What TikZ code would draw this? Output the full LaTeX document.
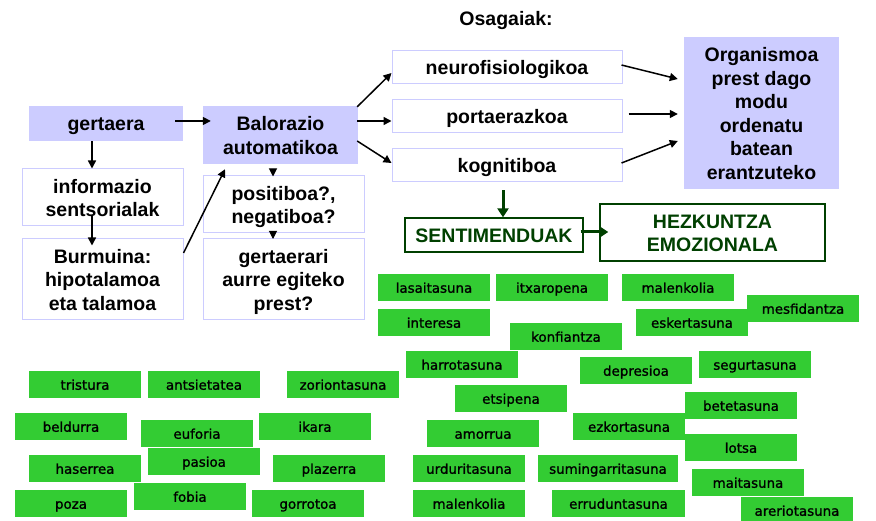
\documentclass[tikz,border=0pt]{standalone}
\usepackage{fontspec}
\setmainfont{Liberation Sans}
\newfontfamily\lblfont[FakeBold=1.2]{DejaVu Sans}
\usetikzlibrary{arrows.meta,calc}
\definecolor{lav}{HTML}{CCCCFF}
\definecolor{grn}{HTML}{33CC33}
\definecolor{dgrn}{HTML}{004000}
\newcommand\bxl[1]{\smash{#1}\rule{0pt}{15pt}}
\begin{document}
\begin{tikzpicture}[x=1pt,y=-1pt,
  main/.style={font=\fontsize{19.5}{23.5}\selectfont\bfseries, align=center, inner sep=0pt},
  filledbox/.style={main, fill=lav},
  whitebox/.style={main, draw=lav, line width=1pt, fill=white},
  greenbox/.style={main, draw=dgrn, line width=1.3pt, fill=white, text=dgrn},
  lbl/.style={fill=grn, minimum width=112pt, minimum height=27pt, inner sep=0pt,
    font=\lblfont\fontsize{13.4}{16}\selectfont, text=black, text height=10.5pt, text depth=0pt},
  arr/.style={-{Triangle[length=8pt,width=8pt]}, line width=1.5pt},
  tinyarr/.style={-{Triangle[length=8pt,width=8pt]}, line width=1pt},
  garr/.style={-{Triangle[length=9pt,width=11pt]}, line width=3pt, draw=dgrn},
]
\useasboundingbox (0,0) rectangle (876,521);

% main boxes
\node[filledbox, minimum width=154pt, minimum height=35pt] (g) at (106,123.5) {\bxl{gertaera}};
\node[filledbox, minimum width=155pt, minimum height=58pt] (bal) at (280.5,135) {\bxl{Balorazio}\\\bxl{automatikoa}};
\node[whitebox, minimum width=161pt, minimum height=57pt] (inf) at (102.5,197.5) {\bxl{informazio}\\\bxl{sentsorialak}};
\node[whitebox, minimum width=161pt, minimum height=81pt] (bur) at (102.5,279.5) {\bxl{Burmuina:}\\\bxl{hipotalamoa}\\\bxl{eta talamoa}};
\node[whitebox, minimum width=161pt, minimum height=57pt] (pos) at (283.5,204.5) {\bxl{positiboa?,}\\\bxl{negatiboa?}};
\node[whitebox, minimum width=161pt, minimum height=81pt] (ger) at (283.5,279.5) {\bxl{gertaerari}\\\bxl{aurre egiteko}\\\bxl{prest?}};
\node[main, anchor=base] (osa) at (506,26) {Osagaiak:};
\node[whitebox, minimum width=230pt, minimum height=33pt] (neuro) at (507,67.5) {\bxl{neurofisiologikoa}};
\node[whitebox, minimum width=230pt, minimum height=33pt] (port) at (507,116.5) {\bxl{portaerazkoa}};
\node[whitebox, minimum width=230pt, minimum height=33pt] (kogn) at (507,165.5) {\bxl{kognitiboa}};
\node[filledbox, minimum width=155pt, minimum height=152pt] (org) at (761.5,113) {\bxl{Organismoa}\\\bxl{prest dago}\\\bxl{modu}\\\bxl{ordenatu}\\\bxl{batean}\\\bxl{erantzuteko}};
\node[greenbox, minimum width=178pt, minimum height=34pt] (sent) at (494,235) {\bxl{SENTIMENDUAK}};
\node[greenbox, minimum width=225pt, minimum height=57pt] (hez) at (712.5,232.5) {\bxl{HEZKUNTZA}\\\bxl{EMOZIONALA}};

% arrows
\draw[arr] ($(g.east)+(-8,-2.5)$) -- ($(bal.west)+(8,-14)$);
\draw[arr] ($(g.south)+(-14,0)$) -- ($(inf.north)+(-10.5,0)$);
\draw[arr] ($(inf.south)+(-10.5,-11)$) -- ($(bur.north)+(-10.5,7)$);
\draw[arr] ($(bur.east)+(0,-26.5)$) -- ($(bal.south)+(-55.5,5)$);
\draw[tinyarr] ($(bal.south)+(-7.5,5)$) -- ($(pos.north)+(-10.5,1)$);
\draw[tinyarr] ($(pos.south)+(-10.5,-2)$) -- ($(ger.north)+(-10.5,0.5)$);
\draw[arr] ($(bal.north east)+(-1,1)$) -- ($(neuro.west)+(0,5.5)$);
\draw[arr] ($(bal.east)+(-1,-14)$) -- ($(port.west)+(0,4.5)$);
\draw[arr] ($(bal.east)+(-1,6)$) -- ($(kogn.west)+(0,-2.5)$);
\draw[arr] ($(neuro.east)+(-1,-2.5)$) -- ($(org.west)+(-6,-34)$);
\draw[arr] ($(port.east)+(6,-2.5)$) -- ($(org.west)+(-6,1)$);
\draw[arr] ($(kogn.east)+(-1,-2.5)$) -- ($(org.west)+(-6,28)$);
\draw[garr] ($(kogn.south)+(-4,8)$) -- ($(sent.north)+(9,0)$);
\draw[garr] ($(sent.east)+(-3,-3)$) -- ($(hez.west)+(9,-0.5)$);

% emotion labels
\node[lbl] (e1) at (434,287.5) {lasaitasuna};
\node[lbl] (e2) at (552,287.5) {itxaropena};
\node[lbl] (e3) at (678,287.5) {malenkolia};
\node[lbl] (e4) at (434,322.5) {interesa};
\node[lbl] (e5) at (566,336.5) {konfiantza};
\node[lbl] (e6) at (692,322.5) {eskertasuna};
\node[lbl] (e7) at (803,308.5) {mesfidantza};
\node[lbl] (e8) at (462,364.5) {harrotasuna};
\node[lbl] (e9) at (636,370.5) {depresioa};
\node[lbl] (e10) at (755,364.5) {segurtasuna};
\node[lbl] (e11) at (511,398.5) {etsipena};
\node[lbl] (e12) at (741,405.5) {betetasuna};
\node[lbl] (e13) at (629,426.5) {ezkortasuna};
\node[lbl] (e14) at (483,433.5) {amorrua};
\node[lbl] (e15) at (741,447.5) {lotsa};
\node[lbl] (e16) at (469,468.5) {urduritasuna};
\node[lbl, minimum width=140pt] (e17) at (608,468.5) {sumingarritasuna};
\node[lbl] (e18) at (748,482.5) {maitasuna};
\node[lbl] (e19) at (469,503.5) {malenkolia};
\node[lbl, minimum width=133pt] (e20) at (618.5,503.5) {erruduntasuna};
\node[lbl] (e21) at (797,510.5) {areriotasuna};
\node[lbl] (e22) at (85,384.5) {tristura};
\node[lbl] (e23) at (204,384.5) {antsietatea};
\node[lbl] (e24) at (343,384.5) {zoriontasuna};
\node[lbl] (e25) at (71,426.5) {beldurra};
\node[lbl] (e26) at (197,433.5) {euforia};
\node[lbl] (e27) at (315,426.5) {ikara};
\node[lbl] (e28) at (85,468.5) {haserrea};
\node[lbl] (e29) at (204,461.5) {pasioa};
\node[lbl] (e30) at (329,468.5) {plazerra};
\node[lbl] (e31) at (71,503.5) {poza};
\node[lbl] (e32) at (190,496.5) {fobia};
\node[lbl] (e33) at (308,503.5) {gorrotoa};
\end{tikzpicture}
\end{document}
